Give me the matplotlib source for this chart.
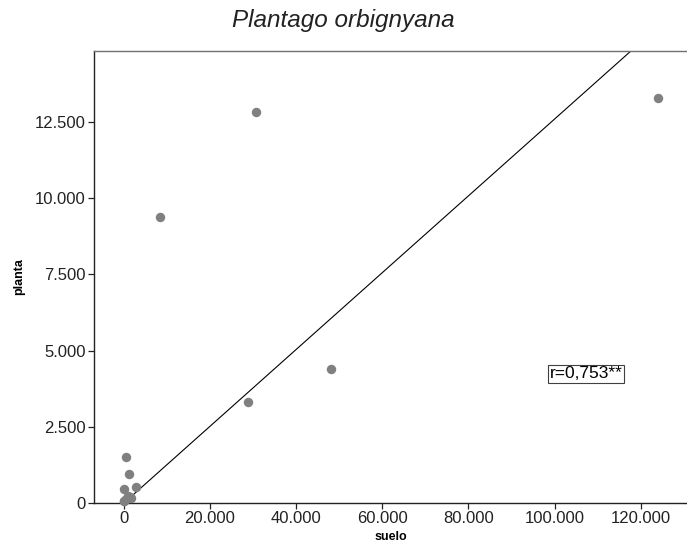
"""
Dispersion planta / suelo pour Plantago orbignyana avec droite d'ajustement
"""

import numpy as np
import matplotlib
matplotlib.use('Agg')
import matplotlib.pyplot as plt
from matplotlib.ticker import FuncFormatter

plt.rcParams['font.family'] = ['Liberation Sans', 'DejaVu Sans']

# Données
suelo = [124000, 30700, 8400, 48100, 28800, 460, 1230, 2850, 140, 1000, 70, 500, 1500, 1800, 0]
planta = [13270, 12820, 9370, 4390, 3310, 1520, 950, 530, 460, 230, 75, 120, 200, 150, 50]

# Droite de régression (pente, ordonnée à l'origine)
pente = 0.126
ordonnee = -8

x_ticks = [0, 20000, 40000, 60000, 80000, 100000, 120000]
y_ticks = [0, 2500, 5000, 7500, 10000, 12500]

titre = 'Plantago orbignyana'
texte_r = 'r=0,753**'


def milliers(v, pos):
    return f'{int(round(v)):,}'.replace(',', '.')


fig = plt.figure(figsize=(6.87, 5.49), dpi=100)
ax = fig.add_axes([94 / 687, 1 - 503 / 549, 1 - 94 / 687, (503 - 51) / 549])

xmin, xmax = -6890, 130700
ymin, ymax = 0, 14820

# Droite d'ajustement
xs = np.array([xmin, xmax])
ax.plot(xs, pente * xs + ordonnee, color='black', linewidth=0.8, zorder=2)

# Points
ax.plot(suelo, planta, 'o', color='#808080', markersize=6.8,
        markeredgewidth=0, zorder=3, clip_on=False)

ax.set_xlim(xmin, xmax)
ax.set_ylim(ymin, ymax)
ax.set_xticks(x_ticks)
ax.set_yticks(y_ticks)
ax.xaxis.set_major_formatter(FuncFormatter(milliers))
ax.yaxis.set_major_formatter(FuncFormatter(milliers))
ax.tick_params(direction='out', length=4, width=0.9, labelsize=12,
               pad=2, colors='#222222')

ax.spines['right'].set_visible(False)
ax.spines['top'].set_color('#707070')
ax.spines['left'].set_color('#222222')
ax.spines['bottom'].set_color('#222222')
for s in ['top', 'left', 'bottom']:
    ax.spines[s].set_linewidth(1.0)

ax.set_xlabel('suelo', fontsize=9, weight='bold', labelpad=3)
ax.set_ylabel('planta', fontsize=9, weight='bold', labelpad=7)

# Étiquette du coefficient
ax.text(107300, 4230, texte_r, fontsize=12.5, ha='center', va='center',
        bbox=dict(boxstyle='square,pad=0.1', facecolor='white',
                  edgecolor='#404040', linewidth=0.8))

fig.text(0.5, 1 - 21 / 549, titre, fontsize=17.5, style='italic',
         ha='center', va='center', color='#222222')

plt.savefig('out.png', dpi=100)
plt.close()
